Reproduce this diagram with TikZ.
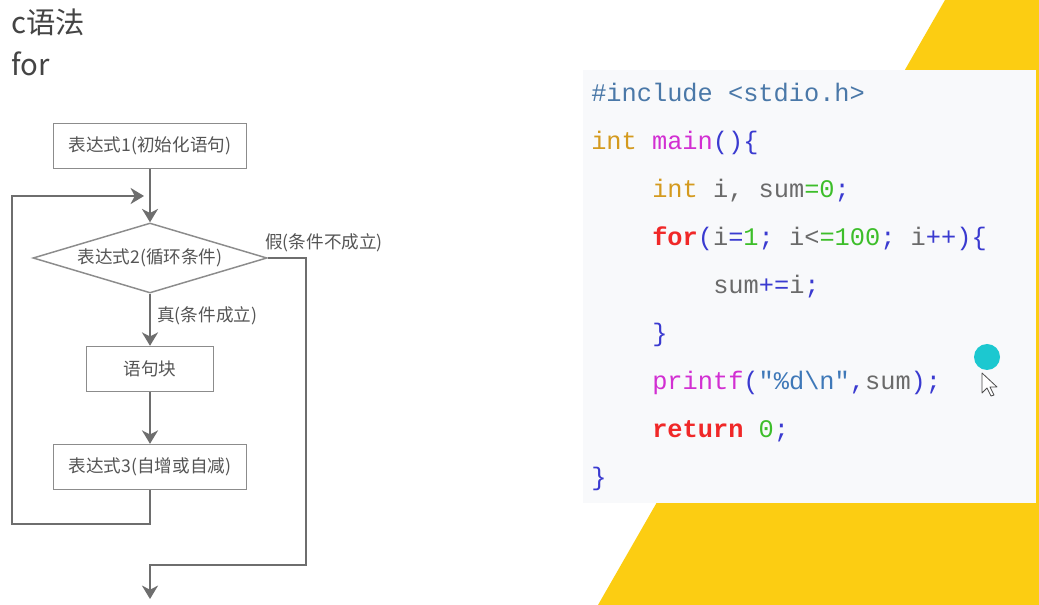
\documentclass[tikz,border=0pt]{standalone}
\usepackage{fontspec}
\usepackage{xcolor}
\usetikzlibrary{arrows.meta,shapes.geometric,positioning}
\newfontfamily\cjk{Noto Sans CJK SC}
\newfontfamily\codefont{Liberation Mono}
\definecolor{flowgray}{HTML}{6E6E6E}
\definecolor{boxgray}{HTML}{8C8C8C}
\definecolor{txtgray}{HTML}{555555}
\definecolor{titlegray}{HTML}{444444}
\definecolor{slideyellow}{HTML}{FCCD12}
\definecolor{panelbg}{HTML}{F8F9FB}
\definecolor{cincl}{HTML}{4A78A8}
\definecolor{ctype}{HTML}{D49A1E}
\definecolor{cfunc}{HTML}{D22FD2}
\definecolor{cpunct}{HTML}{3A3AD0}
\definecolor{cvar}{HTML}{6A6A6A}
\definecolor{cnum}{HTML}{3DBE2A}
\definecolor{ckey}{HTML}{F02828}
\definecolor{cstr}{HTML}{3E78B8}
\definecolor{cdot}{HTML}{1CC8D0}
\newcommand\kwinc[1]{\textcolor{cincl}{#1}}
\newcommand\kwtype[1]{\textcolor{ctype}{#1}}
\newcommand\kwfunc[1]{\textcolor{cfunc}{#1}}
\newcommand\kwpun[1]{\textcolor{cpunct}{#1}}
\newcommand\kwvar[1]{\textcolor{cvar}{#1}}
\newcommand\kwnum[1]{\textcolor{cnum}{#1}}
\newcommand\kwkey[1]{\textcolor{ckey}{\bfseries #1}}
\newcommand\kwstr[1]{\textcolor{cstr}{#1}}

\begin{document}
\begin{tikzpicture}[x=0.75pt,y=-0.75pt]
  \tikzset{flowbox/.style = {draw=boxgray, line width=1.1pt, minimum height=33.75pt,
             inner sep=2pt, text=txtgray, font=\cjk\fontsize{13.2pt}{16pt}\selectfont},
           flowcond/.style = {flowbox, diamond, aspect=3.3, inner sep=0pt,
             minimum width=175.5pt, minimum height=52.5pt},
           flowline/.style = {draw=flowgray, line width=1.5pt, -{Stealth[length=10pt,width=12pt,inset=3pt]}},
           flowlabel/.style = {anchor=west, inner sep=0pt, text=txtgray, font=\cjk\fontsize{13.2pt}{16pt}\selectfont},
           codeline/.style = {anchor=base west, inner sep=0pt, font=\codefont\fontsize{19pt}{22pt}\selectfont}}
  \useasboundingbox (0,0) rectangle (1039,605);
  \fill[white] (0,0) rectangle (1039,605);
  % slide background
  \fill[slideyellow] (945,0) -- (1039,0) -- (1039,605) -- (598,605) -- cycle;
  \fill[panelbg] (583,70) rectangle (1036,503);
  % title
  \node[anchor=west, inner sep=0pt, text=titlegray, font=\cjk\fontsize{22pt}{26pt}\selectfont] (title) at (11,22) {c语法};
  \node[anchor=west, inner sep=0pt, text=titlegray, font=\cjk\fontsize{22pt}{26pt}\selectfont] (subtitle) at (11,64) {for};
  % flowchart
  \node[flowbox, minimum width=144.75pt] (init) at (150,146) {表达式1(初始化语句)};
  \node[flowcond] (cond) at (150,258) {表达式2(循环条件)};
  \node[flowbox, minimum width=95.25pt] (body) at (150,369) {语句块};
  \node[flowbox, minimum width=144.75pt] (incr) at (150,467) {表达式3(自增或自减)};
  \coordinate (loopin) at (144,196);
  \coordinate (backleft) at (12,524);
  \coordinate (exitright) at (306,565);
  \coordinate (exitend) at (150,599);
  \draw[flowline] (init) -- (cond);
  \draw[flowline] (cond) -- (body);
  \draw[flowline] (body) -- (incr);
  \draw[flowline] (incr.south) |- (backleft) |- (loopin);
  \draw[flowline] (cond.east) -| (exitright) -| (exitend);
  \node[flowlabel] (nolabel) at (265,243) {假(条件不成立)};
  \node[flowlabel] (yeslabel) at (157,316) {真(条件成立)};
  % code
  \node[codeline] (c1) at (591,102) {\kwinc{\#include~<stdio.h>}};
  \node[codeline] (c2) at (591,150) {\kwtype{int}~\kwfunc{main}\kwpun{()\{}};
  \node[codeline] (c3) at (652,198) {\kwtype{int}~\kwvar{i,}~\kwvar{sum}\kwnum{=0}\kwpun{;}};
  \node[codeline] (c4) at (652,246) {\kwkey{for}\kwpun{(}\kwvar{i}\kwpun{=}\kwnum{1}\kwpun{;}~\kwvar{i<}\kwnum{=100}\kwpun{;}~\kwvar{i}\kwpun{++)\{}};
  \node[codeline] (c5) at (713,294) {\kwvar{sum}\kwpun{+=}\kwvar{i}\kwpun{;}};
  \node[codeline] (c6) at (652,342) {\kwpun{\}}};
  \node[codeline] (c7) at (652,390) {\kwfunc{printf}\kwpun{(}\kwstr{"\%d\textbackslash n"}\kwpun{,}\kwvar{sum}\kwpun{);}};
  \node[codeline] (c8) at (652,438) {\kwkey{return}~\kwnum{0}\kwpun{;}};
  \node[codeline] (c9) at (591,486) {\kwpun{\}}};
  % pointer
  \fill[cdot] (987,357) circle (13);
  \draw[black!70, fill=white, line width=0.6pt, line join=round]
    (982,373) -- (982,393) -- (987,388) -- (991,396) -- (994,395) -- (990,387) -- (997,387) -- cycle;
\end{tikzpicture}
\end{document}
